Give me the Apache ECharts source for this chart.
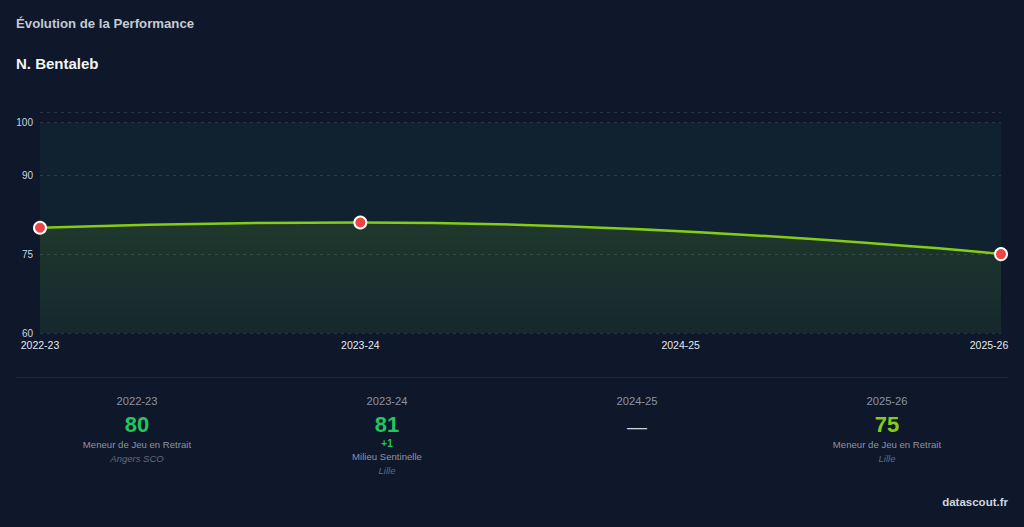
<!DOCTYPE html>
<html>
<head>
    <meta charset="utf-8" />
    <title>Évolution de la Performance</title>
    <style>
        html, body { margin: 0; padding: 0; background: #0f172a; }
        body { width: 1024px; height: 527px; position: relative; overflow: hidden; font-family: "Liberation Sans", Arial, sans-serif; }
        .titre { position: absolute; left: 16px; top: 16px; font-size: 13.2px; font-weight: bold; color: #c4cad3; }
        .joueur { position: absolute; left: 16px; top: 55px; font-size: 15px; font-weight: bold; color: #f1f5f9; }
        #main { position: absolute; left: 0; top: 100px; width: 1024px; height: 260px; }
        .sep { position: absolute; left: 16px; right: 16px; top: 377px; height: 1px; background: #1e293b; }
        #cartes { position: absolute; left: 12px; top: 392px; width: 1000px; display: flex; }
        .carte { flex: 1; text-align: center; }
        .saison { font-size: 11.2px; color: #8a94a3; line-height: 18px; }
        .note { font-size: 22px; font-weight: bold; line-height: 26px; margin-top: 2px; }
        .delta { font-size: 10px; font-weight: bold; color: #22c55e; line-height: 12px; }
        .poste { font-size: 9.6px; color: #8a94a3; line-height: 14px; }
        .club { font-size: 9.5px; font-style: italic; color: #5f6b7d; line-height: 14px; }
        .vide { font-size: 20px; color: #cbd5e1; line-height: 26px; margin-top: 4px; }
        .source { position: absolute; right: 16px; top: 496px; font-size: 11.5px; font-weight: bold; color: #d1d5db; }
    </style>
</head>
<body>
    <div class="titre">Évolution de la Performance</div>
    <div class="joueur">N. Bentaleb</div>
    <div id="main"></div>
    <div class="sep"></div>
    <div id="cartes"></div>
    <div class="source">datascout.fr</div>
    <script src="https://cdn.jsdelivr.net/npm/echarts@6/dist/echarts.min.js"></script>
    <script type="text/javascript">
        // données
        var saisons = ['2022-23', '2023-24', '2024-25', '2025-26'];
        var notes = [80, 81, null, 75];
        var postes = ['Meneur de Jeu en Retrait', 'Milieu Sentinelle', '', 'Meneur de Jeu en Retrait'];
        var clubs = ['Angers SCO', 'Lille', '', 'Lille'];
        var deltas = [null, 1, null, null];
        var yLabels = [60, 75, 90, 100];
        var lignesGrille = [60, 75, 90, 100, 102];

        var chartDom = document.getElementById('main');
        var myChart = echarts.init(chartDom, null, { renderer: 'svg' });

        var option = {
            backgroundColor: 'transparent',
            animation: false,
            grid: { left: 40, right: 23, top: 12, bottom: 27 },
            xAxis: {
                type: 'category',
                data: saisons,
                boundaryGap: false,
                axisLine: { show: false },
                axisTick: { show: false },
                axisLabel: {
                    color: '#e2e8f0',
                    fontSize: 10.5,
                    margin: 6,
                    fontFamily: 'Liberation Sans',
                    // le dernier libellé est décalé vers l'intérieur
                    formatter: function (v, i) {
                        return i === saisons.length - 1 ? '{fin|' + v + '}' : v;
                    },
                    rich: {
                        fin: { color: '#e2e8f0', fontSize: 10.5, fontFamily: 'Liberation Sans', padding: [0, 24, 0, 0] }
                    }
                }
            },
            yAxis: {
                type: 'value',
                min: 60,
                max: 102,
                axisLine: { show: false },
                axisTick: { show: false },
                splitLine: { show: false },
                axisLabel: {
                    customValues: yLabels,
                    color: '#cbd5e1',
                    fontSize: 10,
                    margin: 7,
                    fontFamily: 'Liberation Sans'
                }
            },
            series: [
                {
                    type: 'line',
                    data: notes,
                    smooth: true,
                    connectNulls: true,
                    symbol: 'circle',
                    symbolSize: 12,
                    itemStyle: { color: '#ef4444', borderColor: '#ffffff', borderWidth: 2 },
                    lineStyle: { color: '#84cc16', width: 2.5 },
                    areaStyle: {
                        color: new echarts.graphic.LinearGradient(0, 0, 0, 1, [
                            { offset: 0, color: 'rgba(132,204,22,0.19)' },
                            { offset: 1, color: 'rgba(132,204,22,0.06)' }
                        ])
                    },
                    markArea: {
                        silent: true,
                        itemStyle: { color: '#10212f' },
                        data: [[{ yAxis: 60 }, { yAxis: 100 }]]
                    },
                    markLine: {
                        silent: true,
                        symbol: ['none', 'none'],
                        label: { show: false },
                        lineStyle: { type: [3, 4], color: 'rgba(148,163,184,0.2)', width: 1 },
                        data: lignesGrille.map(function (v) { return { yAxis: v }; })
                    }
                }
            ]
        };
        myChart.setOption(option);

        // cartes par saison
        var cartes = document.getElementById('cartes');
        saisons.forEach(function (s, i) {
            var html = '<div class="saison">' + s + '</div>';
            if (notes[i] == null) {
                html += '<div class="vide">—</div>';
            } else {
                var c = notes[i] >= 80 ? '#22c55e' : '#84cc16';
                html += '<div class="note" style="color:' + c + '">' + notes[i] + '</div>';
                if (deltas[i] != null) {
                    html += '<div class="delta">' + (deltas[i] > 0 ? '+' : '') + deltas[i] + '</div>';
                }
                html += '<div class="poste">' + postes[i] + '</div>';
                html += '<div class="club">' + clubs[i] + '</div>';
            }
            var d = document.createElement('div');
            d.className = 'carte';
            d.innerHTML = html;
            cartes.appendChild(d);
        });
    </script>
</body>
</html>
